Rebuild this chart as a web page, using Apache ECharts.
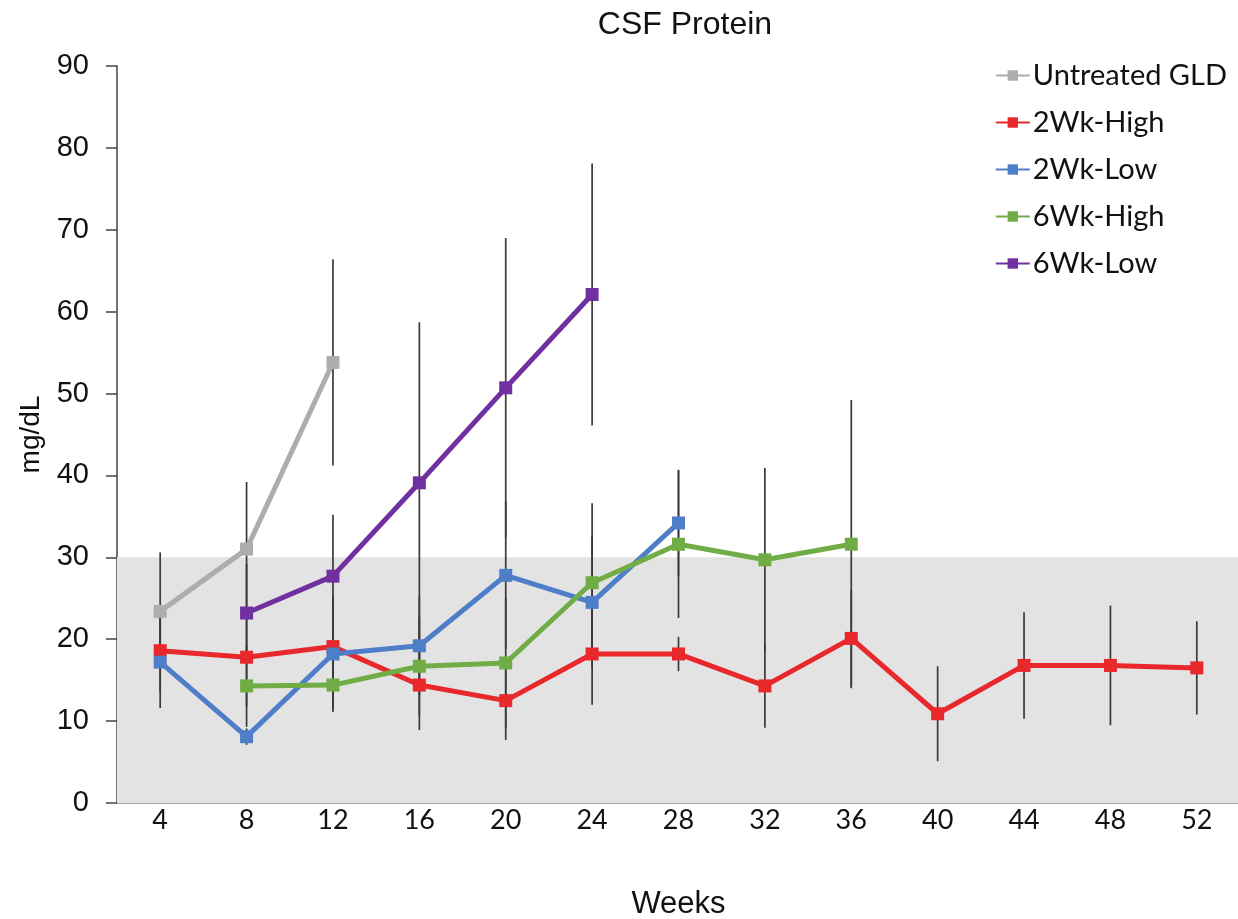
<!DOCTYPE html>
<html>
<head>
<meta charset="utf-8">
<script src="https://cdn.jsdelivr.net/npm/echarts@6/dist/echarts.min.js"></script>
<style>html,body{margin:0;padding:0;background:#fff}#c{width:1238px;height:919px}</style>
</head>
<body>
<div id="c"></div>
<script>
const weeks = ['4','8','12','16','20','24','28','32','36','40','44','48','52'];
const seriesNames = ['Untreated GLD','2Wk-High','2Wk-Low','6Wk-High','6Wk-Low'];
const seriesColors = ['#adadad','#e8282b','#4f7ec9','#70ad47','#7030a0'];

const untreated     = [23.4, 31.0, 53.8, null, null, null, null, null, null, null, null, null, null];
const untreatedErr  = [7.2, 8.2, 12.6, null, null, null, null, null, null, null, null, null, null];
const high2wk       = [18.6, 17.8, 19.1, 14.4, 12.5, 18.2, 18.2, 14.3, 20.1, 10.9, 16.8, 16.8, 16.5];
const high2wkErr    = [5.0, 6.0, 5.0, 5.5, 4.8, 6.2, 2.1, 5.1, 5.9, 5.8, 6.5, 7.3, 5.7];
const low2wk        = [17.2, 8.1, 18.2, 19.2, 27.8, 24.5, 34.2, null, null, null, null, null, null];
const low2wkErr     = [5.6, 1.0, 7.1, 6.0, 9.0, 8.0, 6.5, null, null, null, null, null, null];
const high6wk       = [null, 14.3, 14.4, 16.7, 17.1, 26.9, 31.6, 29.7, 31.6, null, null, null, null];
const high6wkErr    = [null, 5.0, 3.0, 6.0, 8.0, 9.7, 9.0, 11.2, 17.6, null, null, null, null];
const low6wk        = [null, 23.2, 27.7, 39.1, 50.7, 62.1, null, null, null, null, null, null, null];
const low6wkErr     = [null, 6.0, 7.5, 19.6, 18.3, 16.0, null, null, null, null, null, null, null];
const normalBand    = [0, 30];
const yTicks        = {min: 0, max: 90, interval: 10};

const values = [untreated, high2wk, low2wk, high6wk, low6wk];
const errors = [untreatedErr, high2wkErr, low2wkErr, high6wkErr, low6wkErr];

const series = [];
series.push({
  type: 'line', name: '__band', data: weeks.map(() => null), silent: true, z: 0,
  showSymbol: false, legendHoverLink: false,
  markArea: {
    silent: true,
    itemStyle: { color: '#e3e3e3' },
    data: [[{ yAxis: normalBand[0] }, { yAxis: normalBand[1] }]]
  }
});
values.forEach((vals, si) => {
  series.push({
    type: 'custom', name: seriesNames[si] + ' err', z: 2, silent: true,
    data: vals.map((v, i) => v == null ? null : [i, v, errors[si][i]]).filter(d => d),
    renderItem: function (params, api) {
      const i = api.value(0), v = api.value(1), e = api.value(2);
      const top = api.coord([i, v + e]);
      const bot = api.coord([i, v - e]);
      return { type: 'line', shape: { x1: top[0], y1: top[1], x2: bot[0], y2: bot[1] },
        style: { stroke: '#3a3a3a', lineWidth: 1.7 } };
    }
  });
});
values.forEach((vals, si) => {
  series.push({
    type: 'line', name: seriesNames[si], data: vals, z: 4,
    symbol: 'rect', symbolSize: 13, connectNulls: false,
    lineStyle: { width: 5, color: seriesColors[si] },
    itemStyle: { color: seriesColors[si] },
    emphasis: { disabled: true }
  });
});

const chart = echarts.init(document.getElementById('c'));
chart.setOption({
  animation: false,
  backgroundColor: '#fff',
  title: {
    text: 'CSF Protein', left: 680, top: 4, textAlign: 'center',
    textStyle: { fontFamily: 'Liberation Sans', fontSize: 32, fontWeight: 'normal', color: '#111' }
  },
  legend: {
    data: seriesNames, orient: 'vertical', right: 6, top: 56,
    itemWidth: 34, itemHeight: 13, itemGap: 18,
    textStyle: { fontFamily: 'Lato', fontSize: 29, color: '#111', padding: [0,0,0,-2] }
  },
  grid: { left: 117, right: -2, top: 66, bottom: 116, containLabel: false, outerBoundsMode: 'none' },
  xAxis: {
    type: 'category', data: weeks, boundaryGap: true,
    name: 'Weeks', nameLocation: 'middle', nameGap: 86,
    nameTextStyle: { fontFamily: 'Liberation Sans', fontSize: 31, color: '#111' },
    axisLine: { lineStyle: { color: '#8a8a8a', width: 1.5 } },
    axisTick: { show: false },
    axisLabel: { fontFamily: 'Lato', fontSize: 27, color: '#111', margin: 4 },
    splitLine: { show: false }
  },
  yAxis: {
    type: 'value', min: yTicks.min, max: yTicks.max, interval: yTicks.interval,
    name: 'mg/dL', nameLocation: 'middle', nameGap: 72, nameRotate: 90,
    nameTextStyle: { fontFamily: 'Liberation Sans', fontSize: 28, color: '#111' },
    axisLine: { show: true, lineStyle: { color: '#444', width: 1.5 } },
    axisTick: { show: true, length: 11, lineStyle: { color: '#444', width: 1.5 } },
    axisLabel: { fontFamily: 'Liberation Sans', fontSize: 29, color: '#111', margin: 28 },
    splitLine: { show: false }
  },
  series: series
});
</script>
</body>
</html>
